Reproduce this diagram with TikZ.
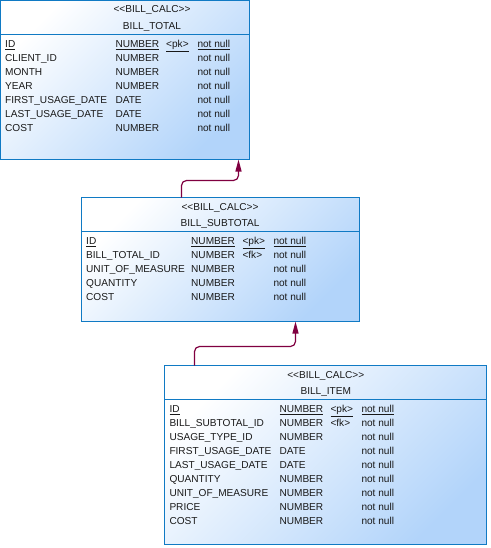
\documentclass[tikz,border=0pt]{standalone}
\usepackage{fontspec}
\setmainfont{Liberation Sans}
\usetikzlibrary{arrows.meta}
\definecolor{boxblue}{RGB}{16,122,196}
\definecolor{fillblue}{RGB}{178,212,250}
\definecolor{fkred}{RGB}{128,0,64}
\tikzset{
  tablebox/.style={draw=boxblue, line width=1pt, top color=white, bottom color=fillblue,
    shading angle=45, inner sep=0, outer sep=0, anchor=north west},
  boxline/.style={draw=boxblue, line width=1pt},
  cell/.style={inner sep=0, anchor=base west, text=black!90, font=\fontsize{10.1}{12}\selectfont},
  title/.style={cell, anchor=base},
  fkline/.style={draw=fkred, line width=1.2pt, rounded corners=5pt,
    -{Triangle[length=12pt,width=6pt]}},
}
\begin{document}
\begin{tikzpicture}[x=1pt, y=-1pt]
  \useasboundingbox (0,0) rectangle (490,548);
  % BILL_TOTAL
  \node[tablebox, minimum width=249pt, minimum height=159pt] (total) at (0.5,0.5) {};
  \draw[boxline] (total.west |- 0,34.5) -- (total.east |- 0,34.5);
  \node[title] (total-st) at (152,13) {<{}<BILL\_CALC>{}>};
  \node[title] (total-nm) at (152,29.3) {BILL\_TOTAL};
  \node[cell] (total-c0) at (5,47.5) {\underline{ID}};
  \node[cell] (total-t0) at (115.3,47.5) {\underline{NUMBER}};
  \node[cell] (total-k0) at (166,47.5) {\underline{<pk>}};
  \node[cell] (total-n0) at (197.3,47.5) {\underline{not null}};
  \foreach \col/\typ [count=\i] in {CLIENT\_ID/NUMBER, MONTH/NUMBER, YEAR/NUMBER,
      FIRST\_USAGE\_DATE/DATE, LAST\_USAGE\_DATE/DATE, COST/NUMBER} {
    \node[cell] (total-c\i) at (5,47.5+14*\i) {\col};
    \node[cell] (total-t\i) at (115.3,47.5+14*\i) {\typ};
    \node[cell] (total-n\i) at (197.3,47.5+14*\i) {not null};
  }
  % BILL_SUBTOTAL
  \node[tablebox, minimum width=278pt, minimum height=124pt] (subtotal) at (81.5,197.5) {};
  \draw[boxline] (subtotal.west |- 0,231.5) -- (subtotal.east |- 0,231.5);
  \node[title] (subtotal-st) at (220,210.3) {<{}<BILL\_CALC>{}>};
  \node[title] (subtotal-nm) at (220,226) {BILL\_SUBTOTAL};
  \node[cell] (subtotal-c0) at (86,244.3) {\underline{ID}};
  \node[cell] (subtotal-t0) at (191,244.3) {\underline{NUMBER}};
  \node[cell] (subtotal-k0) at (242.3,244.3) {\underline{<pk>}};
  \node[cell] (subtotal-n0) at (273.3,244.3) {\underline{not null}};
  \node[cell] (subtotal-c1) at (86,258.3) {BILL\_TOTAL\_ID};
  \node[cell] (subtotal-t1) at (191,258.3) {NUMBER};
  \node[cell] (subtotal-k1) at (242.3,258.3) {<fk>};
  \node[cell] (subtotal-n1) at (273.3,258.3) {not null};
  \foreach \col/\typ [count=\i from 2] in {UNIT\_OF\_MEASURE/NUMBER, QUANTITY/NUMBER,
      COST/NUMBER} {
    \node[cell] (subtotal-c\i) at (86,244.3+14*\i) {\col};
    \node[cell] (subtotal-t\i) at (191,244.3+14*\i) {\typ};
    \node[cell] (subtotal-n\i) at (273.3,244.3+14*\i) {not null};
  }
  % BILL_ITEM
  \node[tablebox, minimum width=322pt, minimum height=179pt] (item) at (164.5,365.5) {};
  \draw[boxline] (item.west |- 0,399.5) -- (item.east |- 0,399.5);
  \node[title] (item-st) at (325.8,378.5) {<{}<BILL\_CALC>{}>};
  \node[title] (item-nm) at (325.8,394.3) {BILL\_ITEM};
  \node[cell] (item-c0) at (169.3,412.5) {\underline{ID}};
  \node[cell] (item-t0) at (279.3,412.5) {\underline{NUMBER}};
  \node[cell] (item-k0) at (330.3,412.5) {\underline{<pk>}};
  \node[cell] (item-n0) at (361.3,412.5) {\underline{not null}};
  \node[cell] (item-c1) at (169.3,426.5) {BILL\_SUBTOTAL\_ID};
  \node[cell] (item-t1) at (279.3,426.5) {NUMBER};
  \node[cell] (item-k1) at (330.3,426.5) {<fk>};
  \node[cell] (item-n1) at (361.3,426.5) {not null};
  \foreach \col/\typ [count=\i from 2] in {USAGE\_TYPE\_ID/NUMBER, FIRST\_USAGE\_DATE/DATE,
      LAST\_USAGE\_DATE/DATE, QUANTITY/NUMBER, UNIT\_OF\_MEASURE/NUMBER, PRICE/NUMBER,
      COST/NUMBER} {
    \node[cell] (item-c\i) at (169.3,412.5+14*\i) {\col};
    \node[cell] (item-t\i) at (279.3,412.5+14*\i) {\typ};
    \node[cell] (item-n\i) at (361.3,412.5+14*\i) {not null};
  }
  % references
  \draw[fkline] ([xshift=100pt]subtotal.north west) -- ++(0,-17) -| ([xshift=238pt]total.south west);
  \draw[fkline] ([xshift=30pt]item.north west) -- ++(0,-19) -| ([xshift=214pt]subtotal.south west);
\end{tikzpicture}
\end{document}
